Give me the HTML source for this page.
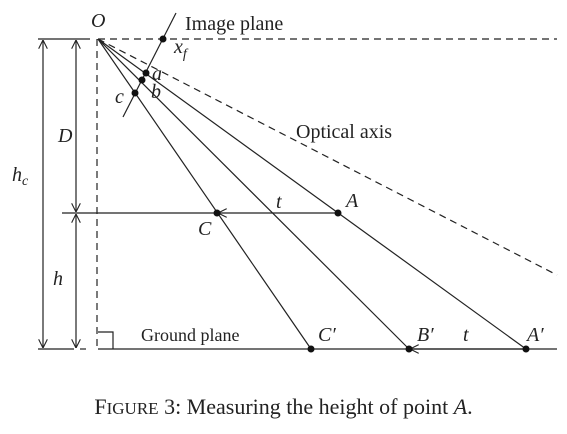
<!DOCTYPE html>
<html><head><meta charset="utf-8"><style>
body{margin:0;background:#fff}
svg{display:block;font-family:"Liberation Serif",serif}
</style></head><body>
<svg width="567" height="434" viewBox="0 0 567 434">
<defs><marker id="ar" viewBox="0 0 10 10" refX="10" refY="5" markerWidth="9" markerHeight="9" orient="auto-start-reverse" markerUnits="userSpaceOnUse"><path d="M0,0 L10,5 L0,10" fill="none" stroke="#222" stroke-width="1.2"/></marker></defs>
<g stroke="#222" stroke-width="1.2" fill="none">
<line x1="98" y1="39" x2="557" y2="39" stroke-dasharray="7,5"/>
<line x1="97" y1="39" x2="97" y2="349" stroke-dasharray="7,5"/>
<line x1="98" y1="39" x2="557" y2="275" stroke-dasharray="7,5"/>
<line x1="98" y1="349" x2="557" y2="349"/>
<polyline points="98,332 113,332 113,349"/>
<line x1="98" y1="39" x2="311" y2="349"/>
<line x1="98" y1="39" x2="409" y2="349"/>
<line x1="98" y1="39" x2="526" y2="349"/>
<line x1="123" y1="117" x2="176" y2="13"/>
<line x1="62" y1="213" x2="217" y2="213"/>
<line x1="338" y1="213" x2="218" y2="213" marker-end="url(#ar)"/>
<line x1="526" y1="349" x2="410" y2="349" marker-end="url(#ar)"/>
<line x1="38" y1="39" x2="90" y2="39"/>
<line x1="38" y1="349" x2="74" y2="349"/>
<line x1="80" y1="349" x2="86" y2="349"/>
<line x1="43" y1="40" x2="43" y2="348" marker-start="url(#ar)" marker-end="url(#ar)"/>
<line x1="76" y1="40" x2="76" y2="212" marker-start="url(#ar)" marker-end="url(#ar)"/>
<line x1="76" y1="214" x2="76" y2="348" marker-start="url(#ar)" marker-end="url(#ar)"/>
</g>
<g fill="#111">
<circle cx="163" cy="39" r="3.5"/>
<circle cx="146" cy="73" r="3.5"/>
<circle cx="142" cy="80" r="3.5"/>
<circle cx="135" cy="93" r="3.5"/>
<circle cx="217" cy="213" r="3.5"/>
<circle cx="338" cy="213" r="3.5"/>
<circle cx="311" cy="349" r="3.5"/>
<circle cx="409" cy="349" r="3.5"/>
<circle cx="526" cy="349" r="3.5"/>
</g>
<g fill="#222" font-size="20" font-style="italic">
<text x="91" y="27">O</text>
<text x="174" y="53">x<tspan font-size="14" dy="5">f</tspan></text>
<text x="152" y="80">a</text>
<text x="151" y="98">b</text>
<text x="115" y="103">c</text>
<text x="58" y="142">D</text>
<text x="12" y="181">h<tspan font-size="14" dy="4">c</tspan></text>
<text x="53" y="285">h</text>
<text x="276" y="208">t</text>
<text x="346" y="207">A</text>
<text x="198" y="235">C</text>
<text x="318" y="341">C′</text>
<text x="417" y="341">B′</text>
<text x="463" y="341">t</text>
<text x="527" y="341">A′</text>
</g>
<g fill="#222" font-size="20">
<text x="185" y="30">Image plane</text>
<text x="296" y="138">Optical axis</text>
<text x="141" y="341" font-size="18">Ground plane</text>
<text x="283.5" y="414" text-anchor="middle" font-size="22">F<tspan font-size="17">IGURE</tspan> 3: Measuring the height of point <tspan font-style="italic">A</tspan>.</text>
</g>
</svg>
</body></html>
